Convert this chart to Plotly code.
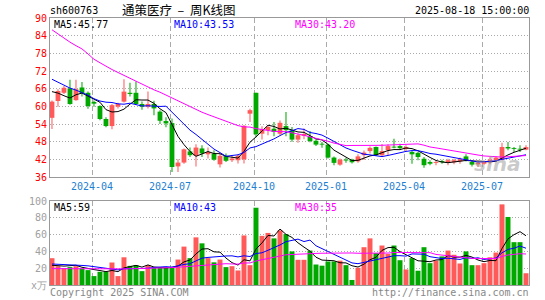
import numpy as np
import pandas as pd
import plotly.graph_objects as go

# ---------------- data ----------------
weeks = [d.strftime('%Y-%m-%d') for d in pd.date_range('2024-02-05', '2025-08-18', freq='W-MON')
         if d.strftime('%Y-%m-%d') != '2024-02-12']

open_ = [56.1, 61.8, 64.6, 66.1, 62.1, 66.4, 64.6, 61.5, 60.1, 55.7,
         53.3, 59.9, 61.6, 64.6, 64.6, 60.8, 59.9, 60.8, 58.2, 55.0,
         54.3, 39.6, 40.9, 44.7, 43.2, 45.7, 43.7, 44.0, 40.3, 43.2,
         41.7, 41.7, 42.0, 57.5, 64.6, 50.7, 51.9, 52.4, 50.7, 53.3,
         51.8, 48.7, 50.0, 49.8, 48.3, 47.3, 47.0, 42.6, 40.2, 41.8,
         41.9, 41.3, 43.4, 44.8, 46.2, 43.4, 45.1, 46.3, 46.5, 45.5,
         44.5, 44.2, 42.2, 41.1, 40.8, 41.4, 40.8, 41.0, 41.3, 43.0,
         41.1, 40.3, 40.5, 41.0, 41.7, 41.9, 46.2, 45.7, 45.5, 45.3]
high = [62.0, 65.8, 66.9, 69.0, 69.0, 68.3, 65.0, 62.0, 60.4, 56.3,
        60.8, 61.2, 69.2, 68.0, 68.4, 61.6, 65.0, 61.9, 58.7, 56.3,
        55.9, 42.0, 45.7, 46.0, 47.1, 46.8, 46.0, 45.1, 44.0, 44.0,
        43.4, 43.7, 53.6, 59.2, 64.6, 53.2, 53.6, 54.7, 55.2, 58.1,
        53.0, 50.8, 52.5, 51.6, 48.8, 47.9, 47.3, 43.0, 42.3, 42.5,
        42.2, 43.7, 45.0, 46.4, 46.4, 47.2, 47.1, 49.0, 47.3, 46.8,
        45.0, 44.5, 42.8, 41.7, 41.7, 41.9, 42.2, 42.2, 42.6, 43.7,
        41.7, 41.7, 41.5, 42.6, 43.0, 47.6, 47.9, 46.2, 46.8, 46.8]
low = [52.3, 59.9, 64.2, 60.5, 61.9, 63.3, 59.2, 59.9, 55.3, 52.9,
       52.2, 59.3, 61.3, 63.3, 60.5, 58.8, 59.3, 57.0, 54.0, 52.9,
       37.7, 37.7, 40.5, 42.8, 39.6, 42.8, 42.3, 41.5, 39.2, 41.1,
       41.1, 40.6, 40.6, 54.7, 49.5, 48.7, 50.2, 49.8, 50.2, 49.8,
       48.0, 47.6, 48.8, 47.8, 46.5, 45.9, 42.3, 40.0, 39.8, 40.8,
       40.6, 40.8, 41.8, 44.0, 43.1, 43.0, 43.4, 45.8, 45.3, 44.8,
       40.5, 41.7, 39.1, 40.0, 40.0, 40.5, 40.0, 40.3, 40.5, 41.3,
       39.6, 39.4, 40.0, 40.3, 41.1, 41.7, 45.1, 44.5, 44.5, 45.1]
close = [61.6, 65.2, 66.3, 60.8, 65.8, 64.4, 60.1, 60.9, 55.7, 53.3,
         60.4, 60.8, 65.0, 64.2, 60.8, 59.9, 60.8, 59.3, 55.1, 54.2,
         39.4, 40.9, 45.4, 43.4, 46.0, 44.0, 44.5, 41.9, 43.2, 41.5,
         42.3, 43.2, 53.4, 58.7, 50.5, 52.3, 53.0, 51.3, 54.4, 51.9,
         48.7, 50.2, 50.6, 48.2, 47.0, 47.0, 42.6, 40.8, 41.9, 41.6,
         41.0, 43.0, 44.3, 45.9, 43.4, 44.8, 46.5, 46.0, 45.8, 46.2,
         43.7, 42.8, 40.0, 40.5, 41.1, 41.0, 41.7, 41.7, 42.0, 41.7,
         40.2, 40.9, 41.1, 41.9, 42.6, 46.2, 45.7, 45.5, 45.3, 46.15]
volume = [31.9, 22.4, 19.7, 21.3, 22.4, 19.7, 17.7, 10.6, 15.7, 15.7,
          26.8, 10.6, 33.0, 22.8, 23.6, 16.5, 23.6, 20.5, 20.5, 20.5,
          20.5, 30.3, 45.7, 32.0, 56.7, 49.6, 32.0, 27.0, 30.3, 21.3,
          22.4, 17.3, 59.0, 23.6, 92.0, 58.5, 62.0, 55.5, 65.0, 60.6,
          40.0, 30.0, 30.0, 41.0, 24.4, 23.0, 28.0, 28.0, 29.0, 23.6,
          6.0, 20.5, 45.0, 55.5, 38.0, 47.0, 37.0, 47.0, 29.5, 18.5,
          32.0, 17.0, 45.0, 26.0, 29.0, 34.0, 41.0, 36.0, 25.6, 40.0,
          23.6, 23.6, 26.0, 33.0, 38.6, 96.0, 81.0, 51.0, 51.0, 14.0]

ma5_head = [65.0, 64.5, 63.6, 62.8]
ma10_head = [69.2, 68.2, 67.2, 66.2, 65.5, 64.6, 63.8, 62.6, 61.8]
ma30_head = [86.0, 84.5, 83.0, 81.8, 80.6, 79.5, 77.8, 76.0, 74.8, 73.6,
             72.5, 71.5, 70.5, 69.5, 68.5, 67.5, 66.5, 65.6, 64.8, 63.8,
             62.9, 61.8, 60.8, 59.8, 58.9, 58.0, 57.2, 56.4, 55.6]
vma5_head = [23.5, 23.0, 22.5, 23.0]
vma10_head = [25.0, 24.8, 24.5, 24.2, 23.8, 23.3, 22.8, 22.0, 21.0]
vma30_head = [19.5, 19.4, 19.3, 19.2, 19.1, 19.0, 19.0, 19.0, 19.0, 19.0,
              19.0, 19.0, 19.2, 19.3, 19.4, 19.5, 19.6, 19.8, 20.0, 20.3,
              20.7, 21.2, 21.8, 22.4, 23.0, 23.6, 24.1, 24.6, 25.0]

tick_labels = ['2024-04', '2024-07', '2024-10', '2025-01', '2025-04', '2025-07']
tick_weeks = ['2024-04-01', '2024-07-01', '2024-10-07', '2024-12-30', '2025-03-31', '2025-06-30']
price_ticks = [36, 42, 48, 54, 60, 66, 72, 78, 84, 90]
vol_ticks = [0, 20, 40, 60, 80, 100]
vol_ticktext = ['x万', '20', '40', '60', '80', '100']

legend_price = ['MA5:45.77', 'MA10:43.53', 'MA30:43.20']
legend_vol = ['MA5:59', 'MA10:43', 'MA30:35']

# ---------------- helpers ----------------
def ma(series, n, head):
    s = pd.Series(series, dtype=float).rolling(n).mean().to_numpy()
    s[:len(head)] = head
    return s

RED = '#ff5a5a'
GREEN = '#00a800'
MONO = 'DejaVu Sans Mono'

x = np.arange(len(weeks))
o = np.array(open_); h = np.array(high); l = np.array(low); c = np.array(close)
up = c >= o
colors = [RED if u else GREEN for u in up]

fig = go.Figure()

# wicks
fig.add_trace(go.Bar(x=x, y=h - l, base=l, width=0.17, marker=dict(color=colors, line=dict(width=0)),
                     xaxis='x', yaxis='y', hoverinfo='skip'))
# bodies
body_base = np.minimum(o, c)
body_h = np.maximum(np.abs(c - o), 0.3)
fig.add_trace(go.Bar(x=x, y=body_h, base=body_base, width=0.8, marker=dict(color=colors, line=dict(width=0)),
                     xaxis='x', yaxis='y', hoverinfo='skip'))

for vals, col in [(ma(close, 5, ma5_head), '#000000'),
                  (ma(close, 10, ma10_head), '#0000ff'),
                  (ma(close, 30, ma30_head), '#ff00ff')]:
    fig.add_trace(go.Scatter(x=x, y=vals, mode='lines', line=dict(color=col, width=1),
                             xaxis='x', yaxis='y', hoverinfo='skip'))

# volume
fig.add_trace(go.Bar(x=x, y=volume, width=0.83, marker=dict(color=colors, line=dict(width=0)),
                     xaxis='x2', yaxis='y2', hoverinfo='skip'))
for vals, col in [(ma(volume, 5, vma5_head), '#000000'),
                  (ma(volume, 10, vma10_head), '#0000ff'),
                  (ma(volume, 30, vma30_head), '#ff00ff')]:
    fig.add_trace(go.Scatter(x=x, y=vals, mode='lines', line=dict(color=col, width=1),
                             xaxis='x2', yaxis='y2', hoverinfo='skip'))

tickpos = [weeks.index(w) - 0.33 for w in tick_weeks]
xr = [-0.33, len(weeks) - 0.5]

GRID = '#aaaaaa'
FRAME = '#999999'
common_x = dict(range=xr, tickvals=tickpos, showgrid=True, gridcolor=GRID, griddash='5px,3px',
                gridwidth=1, showline=True, mirror=True, linecolor=FRAME, linewidth=1,
                zeroline=False, ticks='', fixedrange=True, automargin=False)

fig.update_layout(
    width=545, height=300,
    margin=dict(l=50, r=16, t=18, b=15, autoexpand=False),
    paper_bgcolor='white', plot_bgcolor='white',
    showlegend=False, barmode='overlay', hovermode=False,
    xaxis=dict(domain=[0, 1], anchor='y', ticktext=tick_labels,
               tickfont=dict(family=MONO, size=10, color='#1e80d0'), **common_x),
    yaxis=dict(domain=[0.4045, 1], anchor='x', range=[36, 90], tickvals=price_ticks,
               tickfont=dict(family=MONO, size=10, color='#ff0000'), automargin=False,
               showgrid=True, gridcolor=GRID, griddash='1px,2px', gridwidth=1, fixedrange=True,
               showline=True, mirror=True, linecolor=FRAME, linewidth=1, zeroline=False, ticks=''),
    xaxis2=dict(domain=[0, 1], anchor='y2', showticklabels=False, **common_x),
    yaxis2=dict(domain=[0, 0.3146], anchor='x2', range=[0, 100], tickvals=vol_ticks, ticktext=vol_ticktext,
                tickfont=dict(family=MONO, size=10, color='#a0a0a0'), automargin=False,
                showgrid=True, gridcolor=GRID, griddash='1px,2px', gridwidth=1, fixedrange=True,
                showline=True, mirror=True, linecolor=FRAME, linewidth=1, zeroline=False, ticks=''),
)

W = 479.0
H = 267.0
def px(xp):
    return (xp - 50) / W
def py(yp):
    return (285 - yp) / H

ann = []
def add(text, xp, yp, anchor='left', color='#000000', size=10, family=MONO):
    ann.append(dict(text=text, x=px(xp), y=py(yp), xref='paper', yref='paper', showarrow=False,
                    xanchor=anchor, yanchor='middle', borderpad=0,
                    font=dict(family=family, size=size, color=color)))

add('sh600763', 49, 11)
add('通策医疗&nbsp;&nbsp;–&nbsp;&nbsp;周K线图', 178, 10, anchor='center', size=12.5, family='Noto Sans CJK SC')
add('2025-08-18 15:00:00', 530, 11, anchor='right')
for t, xp, col in zip(legend_price, [53, 173, 294], ['#000000', '#0000ff', '#ff00ff']):
    add(t, xp, 25, color=col)
for t, xp, col in zip(legend_vol, [53, 173, 294], ['#000000', '#0000ff', '#ff00ff']):
    add(t, xp, 207, color=col)
add('Copyright 2025 SINA.COM', 49, 292, color='#888888')
add('http://finance.sina.com.cn', 530, 292, anchor='right', color='#888888')
ann.append(dict(text='<b><i>sina</i></b>', x=px(497), y=py(164), xref='paper', yref='paper', showarrow=False,
                xanchor='center', yanchor='middle',
                font=dict(family='DejaVu Sans', size=20, color='rgba(150,150,150,0.5)')))
fig.update_layout(annotations=ann)

fig.write_html('out.html', config={'displayModeBar': False, 'staticPlot': True},
               post_script="document.body.style.margin='0';document.body.style.padding='0';")
